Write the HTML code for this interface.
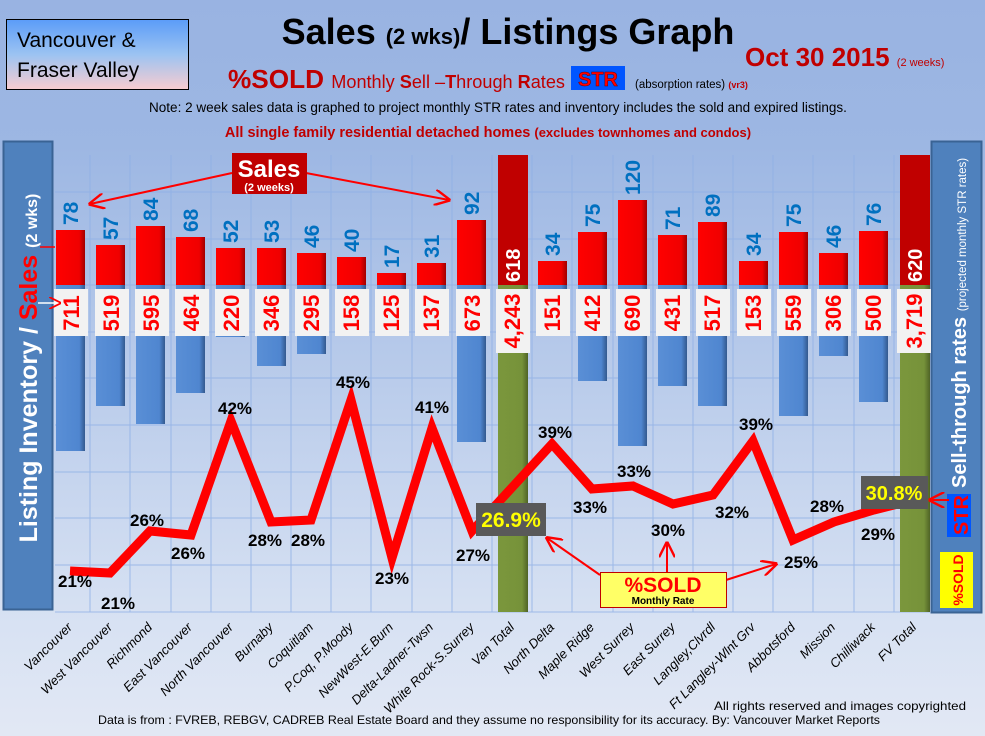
<!DOCTYPE html>
<html><head><meta charset="utf-8"><style>
html,body{margin:0;padding:0;width:985px;height:736px;overflow:hidden}
svg{display:block;font-family:"Liberation Sans",sans-serif}
</style></head><body>
<svg width="985" height="736" viewBox="0 0 985 736" xmlns="http://www.w3.org/2000/svg">
<defs>
<linearGradient id="bg" x1="0" y1="0" x2="0" y2="1">
<stop offset="0" stop-color="#99b3e2"/><stop offset="0.2" stop-color="#9db7e3"/><stop offset="0.85" stop-color="#d8e2f3"/><stop offset="1" stop-color="#e2e8f4"/></linearGradient>
<linearGradient id="vb" x1="0" y1="0" x2="0" y2="1"><stop offset="0" stop-color="#5b9cf8"/><stop offset="0.5" stop-color="#9cc3f2"/><stop offset="1" stop-color="#f8ccd0"/></linearGradient>
<linearGradient id="rb" x1="0" y1="0" x2="1" y2="0"><stop offset="0" stop-color="#ff0000"/><stop offset="0.8" stop-color="#f00000"/><stop offset="1" stop-color="#a00000"/></linearGradient>
<linearGradient id="bb" x1="0" y1="0" x2="1" y2="0"><stop offset="0" stop-color="#5a8fd6"/><stop offset="0.8" stop-color="#4f86d0"/><stop offset="1" stop-color="#33598e"/></linearGradient>
<linearGradient id="ob" x1="0" y1="0" x2="1" y2="0"><stop offset="0" stop-color="#7b973c"/><stop offset="0.8" stop-color="#76923a"/><stop offset="1" stop-color="#4f6326"/></linearGradient>
<marker id="ah" viewBox="0 0 10 10" refX="9" refY="5" markerWidth="8" markerHeight="8" orient="auto"><path d="M0,0 L10,5 L0,10" fill="none" stroke="#ff0000" stroke-width="1.5"/></marker>
</defs>
<rect width="985" height="736" fill="url(#bg)"/>
<g stroke="#8fb0e6" stroke-width="1" opacity="0.8">
<line x1="55" y1="192" x2="930" y2="192"/><line x1="55" y1="239" x2="930" y2="239"/><line x1="55" y1="285" x2="930" y2="285"/><line x1="55" y1="332" x2="930" y2="332"/><line x1="55" y1="378" x2="930" y2="378"/><line x1="55" y1="425" x2="930" y2="425"/><line x1="55" y1="472" x2="930" y2="472"/><line x1="55" y1="518" x2="930" y2="518"/><line x1="55" y1="565" x2="930" y2="565"/><line x1="55" y1="612" x2="930" y2="612"/>
<line x1="90" y1="155" x2="90" y2="612"/><line x1="130" y1="155" x2="130" y2="612"/><line x1="171" y1="155" x2="171" y2="612"/><line x1="211" y1="155" x2="211" y2="612"/><line x1="251" y1="155" x2="251" y2="612"/><line x1="291" y1="155" x2="291" y2="612"/><line x1="331" y1="155" x2="331" y2="612"/><line x1="371" y1="155" x2="371" y2="612"/><line x1="412" y1="155" x2="412" y2="612"/><line x1="452" y1="155" x2="452" y2="612"/><line x1="492" y1="155" x2="492" y2="612"/><line x1="532" y1="155" x2="532" y2="612"/><line x1="572" y1="155" x2="572" y2="612"/><line x1="613" y1="155" x2="613" y2="612"/><line x1="653" y1="155" x2="653" y2="612"/><line x1="693" y1="155" x2="693" y2="612"/><line x1="733" y1="155" x2="733" y2="612"/><line x1="773" y1="155" x2="773" y2="612"/><line x1="813" y1="155" x2="813" y2="612"/><line x1="854" y1="155" x2="854" y2="612"/><line x1="894" y1="155" x2="894" y2="612"/>
</g>
<rect x="6.5" y="19.5" width="182" height="70" fill="url(#vb)" stroke="#000" stroke-width="1"/>
<text x="17" y="47" font-size="21">Vancouver &amp;</text>
<text x="17" y="77" font-size="21">Fraser Valley</text>
<text x="508" y="44" text-anchor="middle" font-size="36" font-weight="bold">Sales <tspan font-size="22">(2 wks)</tspan>/ Listings Graph</text>
<text x="745" y="66" font-size="26" font-weight="bold" fill="#c00000">Oct 30 2015 <tspan font-size="11" font-weight="normal">(2 weeks)</tspan></text>
<text x="228" y="88" font-size="26" font-weight="bold" fill="#c00000" textLength="337" lengthAdjust="spacingAndGlyphs">%SOLD <tspan font-size="18" font-weight="normal">Monthly <tspan font-weight="bold">S</tspan>ell –<tspan font-weight="bold">T</tspan>hrough <tspan font-weight="bold">R</tspan>ates</tspan></text>
<rect x="571" y="66" width="54" height="24" fill="#0055ff"/>
<text x="598" y="86" text-anchor="middle" font-size="20" font-weight="bold" fill="#ff0000" stroke="#600" stroke-width="0.5">STR</text>
<text x="635" y="88" font-size="11.5">(absorption rates) <tspan fill="#c00000" font-weight="bold" font-size="9">(vr3)</tspan></text>
<text x="498" y="112" text-anchor="middle" font-size="13.5">Note: 2 week sales data is graphed to project monthly STR rates and inventory includes the sold and expired listings.</text>
<text x="488" y="137" text-anchor="middle" font-size="14.5" font-weight="bold" fill="#c00000">All single family residential detached homes <tspan font-size="13">(excludes townhomes and condos)</tspan></text>
<rect x="3.5" y="141.5" width="49" height="468" fill="#4f81bd" stroke="#3a6394" stroke-width="2"/>
<text transform="translate(37,368) rotate(-90)" text-anchor="middle" font-size="25" font-weight="bold" fill="#fff">Listing Inventory / <tspan fill="#ff0000">Sales</tspan> <tspan font-size="16">(2  wks)</tspan></text>
<rect x="931.5" y="141.5" width="50" height="471" fill="#4f81bd" stroke="#3a6394" stroke-width="2"/>
<text transform="translate(966,488) rotate(-90)" font-size="20" font-weight="bold" fill="#fff">Sell-through rates <tspan font-size="11.5" font-weight="normal">  (projected monthly STR rates)</tspan></text>
<rect x="947" y="494" width="24" height="43" fill="#0055ff"/>
<text transform="translate(968,515) rotate(-90)" text-anchor="middle" font-size="20" font-weight="bold" fill="#ff0000">STR</text>
<rect x="940" y="552" width="33" height="56" fill="#ffff00"/>
<text transform="translate(963,580) rotate(-90)" text-anchor="middle" font-size="14" font-weight="bold" fill="#ff0000">%SOLD</text>
<rect x="498" y="155" width="30" height="130" fill="#c00000"/><rect x="498" y="285" width="30" height="327" fill="url(#ob)"/>
<rect x="900" y="155" width="30" height="130" fill="#c00000"/><rect x="900" y="285" width="30" height="327" fill="url(#ob)"/>
<g fill="url(#bb)">
<rect x="56" y="285" width="29" height="166"/><rect x="96" y="285" width="29" height="121"/><rect x="136" y="285" width="29" height="139"/><rect x="176" y="285" width="29" height="108"/><rect x="216" y="285" width="29" height="52"/><rect x="257" y="285" width="29" height="81"/><rect x="297" y="285" width="29" height="69"/><rect x="337" y="285" width="29" height="37"/><rect x="377" y="285" width="29" height="29"/><rect x="417" y="285" width="29" height="32"/><rect x="457" y="285" width="29" height="157"/><rect x="538" y="285" width="29" height="35"/><rect x="578" y="285" width="29" height="96"/><rect x="618" y="285" width="29" height="161"/><rect x="658" y="285" width="29" height="101"/><rect x="698" y="285" width="29" height="121"/><rect x="739" y="285" width="29" height="36"/><rect x="779" y="285" width="29" height="131"/><rect x="819" y="285" width="29" height="71"/><rect x="859" y="285" width="29" height="117"/>
</g>
<g fill="url(#rb)">
<rect x="56" y="230" width="29" height="55"/><rect x="96" y="245" width="29" height="40"/><rect x="136" y="226" width="29" height="59"/><rect x="176" y="237" width="29" height="48"/><rect x="216" y="248" width="29" height="37"/><rect x="257" y="248" width="29" height="37"/><rect x="297" y="253" width="29" height="32"/><rect x="337" y="257" width="29" height="28"/><rect x="377" y="273" width="29" height="12"/><rect x="417" y="263" width="29" height="22"/><rect x="457" y="220" width="29" height="65"/><rect x="538" y="261" width="29" height="24"/><rect x="578" y="232" width="29" height="53"/><rect x="618" y="200" width="29" height="85"/><rect x="658" y="235" width="29" height="50"/><rect x="698" y="222" width="29" height="63"/><rect x="739" y="261" width="29" height="24"/><rect x="779" y="232" width="29" height="53"/><rect x="819" y="253" width="29" height="32"/><rect x="859" y="231" width="29" height="54"/>
</g>
<g font-size="21" font-weight="bold" fill="#0070c0">
<text transform="translate(78,225) rotate(-90)">78</text><text transform="translate(118,240) rotate(-90)">57</text><text transform="translate(158,221) rotate(-90)">84</text><text transform="translate(198,232) rotate(-90)">68</text><text transform="translate(238,243) rotate(-90)">52</text><text transform="translate(279,243) rotate(-90)">53</text><text transform="translate(319,248) rotate(-90)">46</text><text transform="translate(359,252) rotate(-90)">40</text><text transform="translate(399,268) rotate(-90)">17</text><text transform="translate(439,258) rotate(-90)">31</text><text transform="translate(479,215) rotate(-90)">92</text><text transform="translate(560,256) rotate(-90)">34</text><text transform="translate(600,227) rotate(-90)">75</text><text transform="translate(640,195) rotate(-90)">120</text><text transform="translate(680,230) rotate(-90)">71</text><text transform="translate(720,217) rotate(-90)">89</text><text transform="translate(761,256) rotate(-90)">34</text><text transform="translate(801,227) rotate(-90)">75</text><text transform="translate(841,248) rotate(-90)">46</text><text transform="translate(881,226) rotate(-90)">76</text>
</g>
<g font-size="20" font-weight="bold" fill="#fff">
<text transform="translate(520,282) rotate(-90)">618</text><text transform="translate(922,282) rotate(-90)">620</text>
</g>
<g fill="#f2f2f2">
<rect x="54" y="289" width="34" height="47"/><rect x="95" y="289" width="34" height="47"/><rect x="135" y="289" width="34" height="47"/><rect x="175" y="289" width="34" height="47"/><rect x="215" y="289" width="34" height="47"/><rect x="255" y="289" width="34" height="47"/><rect x="295" y="289" width="34" height="47"/><rect x="335" y="289" width="34" height="47"/><rect x="375" y="289" width="34" height="47"/><rect x="415" y="289" width="34" height="47"/><rect x="456" y="289" width="34" height="47"/><rect x="496" y="289" width="34" height="64"/><rect x="536" y="289" width="34" height="47"/><rect x="576" y="289" width="34" height="47"/><rect x="616" y="289" width="34" height="47"/><rect x="656" y="289" width="34" height="47"/><rect x="696" y="289" width="34" height="47"/><rect x="737" y="289" width="34" height="47"/><rect x="777" y="289" width="34" height="47"/><rect x="817" y="289" width="34" height="47"/><rect x="857" y="289" width="34" height="47"/><rect x="897" y="289" width="34" height="64"/>
</g>
<g font-size="22" font-weight="bold" fill="#ff0000" text-anchor="middle">
<text transform="translate(79,313) rotate(-90)">711</text><text transform="translate(119,313) rotate(-90)">519</text><text transform="translate(159,313) rotate(-90)">595</text><text transform="translate(199,313) rotate(-90)">464</text><text transform="translate(239,313) rotate(-90)">220</text><text transform="translate(279,313) rotate(-90)">346</text><text transform="translate(319,313) rotate(-90)">295</text><text transform="translate(359,313) rotate(-90)">158</text><text transform="translate(399,313) rotate(-90)">125</text><text transform="translate(439,313) rotate(-90)">137</text><text transform="translate(480,313) rotate(-90)">673</text><text transform="translate(520,321) rotate(-90)">4,243</text><text transform="translate(560,313) rotate(-90)">151</text><text transform="translate(600,313) rotate(-90)">412</text><text transform="translate(640,313) rotate(-90)">690</text><text transform="translate(680,313) rotate(-90)">431</text><text transform="translate(720,313) rotate(-90)">517</text><text transform="translate(761,313) rotate(-90)">153</text><text transform="translate(801,313) rotate(-90)">559</text><text transform="translate(841,313) rotate(-90)">306</text><text transform="translate(881,313) rotate(-90)">500</text><text transform="translate(922,321) rotate(-90)">3,719</text>
</g>
<polyline points="70,571 110,573 150,531 191,535 231,421 271,522 311,520 351,400 392,558 432,428 472,531 552,444 592,489 633,486 673,504 713,495 753,441 793,540 834,522 874,510 914,500" fill="none" stroke="#ff0000" stroke-width="9" stroke-linejoin="miter"/>
<g font-size="17" font-weight="bold" text-anchor="middle" fill="#000">
<text x="75" y="587">21%</text><text x="118" y="609">21%</text><text x="147" y="526">26%</text><text x="188" y="559">26%</text><text x="235" y="414">42%</text><text x="265" y="546">28%</text><text x="308" y="546">28%</text><text x="353" y="388">45%</text><text x="392" y="584">23%</text><text x="432" y="413">41%</text><text x="473" y="561">27%</text><text x="555" y="438">39%</text><text x="590" y="513">33%</text><text x="634" y="477">33%</text><text x="668" y="536">30%</text><text x="732" y="518">32%</text><text x="756" y="430">39%</text><text x="801" y="568">25%</text><text x="827" y="512">28%</text><text x="878" y="540">29%</text>
</g>
<rect x="476" y="503" width="70" height="33" fill="#595959"/>
<text x="511" y="527" text-anchor="middle" font-size="21" font-weight="bold" fill="#ffff00">26.9%</text>
<rect x="861" y="476" width="67" height="33" fill="#595959"/>
<text x="894" y="500" text-anchor="middle" font-size="20" font-weight="bold" fill="#ffff00">30.8%</text>
<line x1="949" y1="500" x2="930" y2="500" stroke="#ff0000" stroke-width="2" marker-end="url(#ah)"/>
<line x1="600" y1="575" x2="547" y2="538" stroke="#ff0000" stroke-width="2" marker-end="url(#ah)"/>
<line x1="667" y1="572" x2="667" y2="543" stroke="#ff0000" stroke-width="2" marker-end="url(#ah)"/>
<line x1="726" y1="580" x2="776" y2="564" stroke="#ff0000" stroke-width="2" marker-end="url(#ah)"/>
<rect x="600.5" y="572.5" width="126" height="35" fill="#ffff66" stroke="#c00000" stroke-width="1"/>
<text x="663" y="592" text-anchor="middle" font-size="21" font-weight="bold" fill="#ff0000">%SOLD</text>
<text x="663" y="604" text-anchor="middle" font-size="10" font-weight="bold">Monthly Rate</text>
<line x1="232" y1="173" x2="90" y2="204" stroke="#ff0000" stroke-width="2" marker-end="url(#ah)"/>
<line x1="306" y1="173" x2="449" y2="200" stroke="#ff0000" stroke-width="2" marker-end="url(#ah)"/>
<rect x="232" y="153" width="75" height="41" fill="#c00000"/>
<text x="269" y="177" text-anchor="middle" font-size="24" font-weight="bold" fill="#fff">Sales</text>
<text x="269" y="191" text-anchor="middle" font-size="11" font-weight="bold" fill="#fff">(2 weeks)</text>
<line x1="40" y1="247" x2="55" y2="247" stroke="#ff0000" stroke-width="1.5"/>
<line x1="38" y1="303" x2="60" y2="303" stroke="#fff" stroke-width="1.5" marker-end="url(#ah)"/>
<g font-size="13" font-style="italic" text-anchor="end" fill="#000">
<text transform="translate(73,628) rotate(-45)">Vancouver</text><text transform="translate(113,628) rotate(-45)">West Vancouver</text><text transform="translate(153,628) rotate(-45)">Richmond</text><text transform="translate(193,628) rotate(-45)">East Vancouver</text><text transform="translate(234,628) rotate(-45)">North Vancouver</text><text transform="translate(274,628) rotate(-45)">Burnaby</text><text transform="translate(314,628) rotate(-45)">Coquitlam</text><text transform="translate(354,628) rotate(-45)">P.Coq, P.Moody</text><text transform="translate(394,628) rotate(-45)">NewWest-E.Burn</text><text transform="translate(434,628) rotate(-45)">Delta-Ladner-Twsn</text><text transform="translate(475,628) rotate(-45)">White Rock-S.Surrey</text><text transform="translate(515,628) rotate(-45)">Van Total</text><text transform="translate(555,628) rotate(-45)">North Delta</text><text transform="translate(595,628) rotate(-45)">Maple Ridge</text><text transform="translate(635,628) rotate(-45)">West Surrey</text><text transform="translate(676,628) rotate(-45)">East Surrey</text><text transform="translate(716,628) rotate(-45)">Langley,Clvrdl</text><text transform="translate(756,628) rotate(-45)">Ft Langley-Wlnt Grv</text><text transform="translate(796,628) rotate(-45)">Abbotsford</text><text transform="translate(836,628) rotate(-45)">Mission</text><text transform="translate(876,628) rotate(-45)">Chilliwack</text><text transform="translate(917,628) rotate(-45)">FV Total</text>
</g>
<text x="714" y="710" font-size="12" textLength="252" lengthAdjust="spacingAndGlyphs">All rights reserved and  images copyrighted</text>
<text x="98" y="724" font-size="12" textLength="782" lengthAdjust="spacingAndGlyphs">Data is from : FVREB, REBGV, CADREB Real Estate Board and they assume no responsibility for its accuracy. By: Vancouver Market Reports</text>
</svg>
</body></html>
